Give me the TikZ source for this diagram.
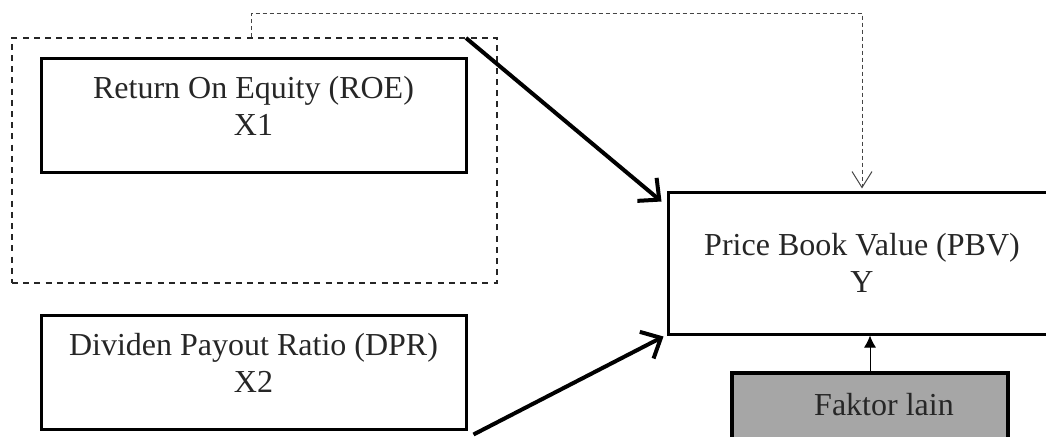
\documentclass[tikz,border=0pt]{standalone}
\usepackage{fontspec}
\setmainfont{Liberation Serif}
\usetikzlibrary{arrows.meta}
\definecolor{txtc}{HTML}{262626}
\definecolor{boxgray}{HTML}{A6A6A6}
\definecolor{dotc}{HTML}{444444}
\begin{document}
\begin{tikzpicture}[x=0.5pt,y=-0.5pt,
  box/.style={draw=black,line width=1.5pt,minimum width=212.5pt,minimum height=57pt,inner sep=0pt},
  grpbox/.style={draw=black!85,line width=1pt,dash pattern=on 3pt off 2.6pt,minimum width=242.5pt,minimum height=122.5pt,inner sep=0pt},
  txt/.style={font=\fontsize{16}{18.5}\selectfont,text=txtc,inner sep=0pt,anchor=base},
  thick arrow/.style={line width=2pt,-{Straight Barb[length=8pt,width=15pt,line width=2pt]}},
  fb/.style={draw=dotc,line width=0.5pt,dash pattern=on 2pt off 1.5pt,-{Straight Barb[length=8pt,width=10pt,line width=0.5pt,sep]}},
  small arrow/.style={line width=0.5pt,-{Latex[length=6pt,width=6pt]}}]
\useasboundingbox (0,0) rectangle (1046,436);
\clip (0,0) rectangle (1046,436);
% dashed group
\node[grpbox] (grp) at (254.5,160.5) {};
% ROE box
\node[box] (roe) at (253.5,115) {};
\node[txt] (roe1) at (253.5,98) {Return On Equity (ROE)};
\node[txt] (roe2) at (253.5,135) {X1};
% DPR box
\node[box] (dpr) at (253.5,372) {};
\node[txt] (dpr1) at (253.5,355) {Dividen Payout Ratio (DPR)};
\node[txt] (dpr2) at (253.5,392) {X2};
% PBV box
\node[box,minimum width=194pt,minimum height=71pt] (pbv) at (862,263) {};
\node[txt] (pbv1) at (862,255) {Price Book Value (PBV)};
\node[txt] (pbv2) at (862,292) {Y};
% Faktor lain
\node[draw=black,line width=2pt,fill=boxgray,minimum width=138pt,minimum height=38.5pt,inner sep=0pt] (fak) at (870,411.5) {};
\node[txt] (fak1) at (884,415) {Faktor lain};
% connectors
\coordinate (s1) at ([shift={(-32,1)}]grp.north east);
\coordinate (e1) at ([shift={(-5,11)}]pbv.north west);
\draw[thick arrow] (s1) -- (e1);
\coordinate (s2) at ([shift={(6,4)}]dpr.south east);
\coordinate (e2) at ([shift={(-3,1)}]pbv.south west);
\draw[thick arrow] (s2) -- (e2);
\draw[small arrow] (fak.north) -- (fak.north |- pbv.south);
\draw[fb] ([shift={(-3,0)}]grp.north) -- ([shift={(-3,0)}]grp.north |- 0,13) -| (pbv.north);
\end{tikzpicture}
\end{document}
